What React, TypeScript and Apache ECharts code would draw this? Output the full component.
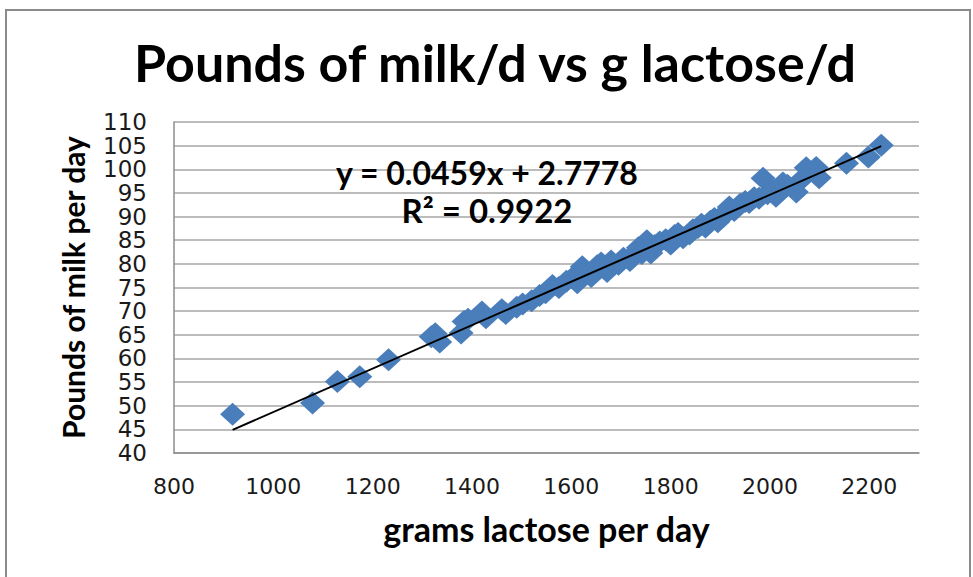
import React, { useEffect, useRef } from "react";
import * as echarts from "echarts";

const chartTitle = "Pounds of milk/d vs g lactose/d";
const xAxisTitle = "grams lactose per day";
const yAxisTitle = "Pounds of milk per day";
const equationText = "y = 0.0459x + 2.7778";
const r2Text = "R² = 0.9922";

const lactose = [
  918, 1079, 1129, 1174, 1232, 1318, 1326, 1335, 1378, 1384, 1392, 1420, 1428,
  1460, 1468, 1490, 1502, 1520, 1536, 1548, 1562, 1575, 1590, 1604, 1612, 1622,
  1630, 1640, 1652, 1660, 1672, 1680, 1695, 1705, 1718, 1725, 1735, 1742, 1752,
  1760, 1768, 1778, 1790, 1800, 1808, 1815, 1825, 1838, 1845, 1855, 1862, 1870,
  1880, 1888, 1895, 1905, 1912, 1918, 1928, 1940, 1950, 1958, 1968, 1978, 1986,
  1995, 2005, 2012, 2026, 2035, 2053, 2065, 2073, 2093, 2099, 2154, 2198, 2224,
];
const milk = [
  48.2, 50.6, 55.1, 56.1, 59.7, 64.6, 65.2, 63.5, 65.4, 67.8, 68.3, 69.8, 68.6,
  70.3, 69.5, 70.8, 71.5, 72.2, 73.3, 73.9, 75.4, 75.0, 76.3, 77.2, 76.0, 79.4,
  78.2, 77.3, 79.6, 80.2, 78.4, 80.6, 79.9, 81.2, 80.7, 82.0, 83.4, 82.2, 84.9,
  82.3, 83.9, 84.6, 85.1, 84.2, 86.0, 86.4, 85.5, 86.3, 87.2, 87.7, 88.4, 87.8,
  89.0, 89.6, 88.9, 90.0, 91.0, 92.0, 91.3, 92.6, 93.2, 93.0, 94.0, 93.9, 98.1,
  94.8, 95.5, 94.3, 97.1, 96.6, 95.2, 98.0, 100.3, 100.4, 98.2, 101.3, 102.6, 105.1,
];
const trendX = [918, 2224];
const trendY = [44.9, 104.9];

const labelFont = "'DejaVu Sans', Verdana, sans-serif";

export default function App() {
  const ref = useRef<HTMLDivElement>(null);
  useEffect(() => {
    if (!ref.current) return;
    const chart = echarts.init(ref.current, null, { renderer: "svg" });
    const points = lactose.map((x, i) => [x, milk[i]]);
    const trend = trendX.map((x, i) => [x, trendY[i]]);
    chart.setOption({
      animation: false,
      backgroundColor: "#ffffff",
      grid: { left: 174, right: 54, top: 122, bottom: 124, containLabel: false },
      xAxis: {
        type: "value",
        min: 800,
        max: 2300,
        interval: 200,
        name: xAxisTitle,
        nameLocation: "middle",
        nameGap: 58,
        nameTextStyle: { fontFamily: "Lato", fontWeight: "bold", fontSize: 34, color: "#000" },
        axisLine: { show: true, lineStyle: { color: "#8c8c8c", width: 1.5 } },
        axisTick: { show: false },
        splitLine: { show: false },
        axisLabel: {
          showMaxLabel: false,
          margin: 22,
          fontFamily: labelFont,
          fontSize: 22,
          color: "#1a1a1a",
          formatter: (v: number) => String(v),
        },
      },
      yAxis: {
        type: "value",
        min: 40,
        max: 110,
        interval: 5,
        name: yAxisTitle,
        nameLocation: "middle",
        nameGap: 86,
        nameTextStyle: { fontFamily: "Lato", fontWeight: "bold", fontSize: 30, color: "#000" },
        axisLine: { show: true, lineStyle: { color: "#8c8c8c", width: 1.5 } },
        axisTick: { show: false },
        splitLine: { show: true, lineStyle: { color: "#a6a6a6", width: 1.5 } },
        axisLabel: {
          margin: 27,
          fontFamily: labelFont,
          fontSize: 23,
          color: "#1a1a1a",
          formatter: (v: number) => String(v),
        },
      },
      series: [
        {
          type: "scatter",
          data: points,
          symbol: "diamond",
          symbolSize: [25, 23],
          itemStyle: { color: "#4a7ebb", opacity: 1 },
          z: 2,
        },
        {
          type: "line",
          data: trend,
          symbol: "none",
          lineStyle: { color: "#000000", width: 2 },
          z: 3,
        },
      ],
      graphic: [
        {
          type: "rect",
          shape: { x: 6, y: 10, width: 964, height: 580 },
          style: { fill: "none", stroke: "#8a8a8a", lineWidth: 2 },
          silent: true,
        },
        {
          type: "text",
          x: 495,
          y: 62,
          style: {
            text: chartTitle,
            fontFamily: "Lato",
            fontWeight: "bold",
            fontSize: 52,
            fill: "#000",
            align: "center",
            verticalAlign: "middle",
          },
        },
        {
          type: "text",
          x: 487,
          y: 172,
          z: 10,
          style: {
            text: equationText,
            fontFamily: "Lato",
            fontWeight: "bold",
            fontSize: 32,
            fill: "#000",
            align: "center",
            verticalAlign: "middle",
          },
        },
        {
          type: "text",
          x: 487,
          y: 210,
          z: 10,
          style: {
            text: r2Text,
            fontFamily: "Lato",
            fontWeight: "bold",
            fontSize: 33,
            fill: "#000",
            align: "center",
            verticalAlign: "middle",
          },
        },
      ],
    });
    return () => chart.dispose();
  }, []);
  return (
    <div
      ref={ref}
      style={{ position: "absolute", left: 0, top: 0, width: 973, height: 577 }}
    />
  );
}
